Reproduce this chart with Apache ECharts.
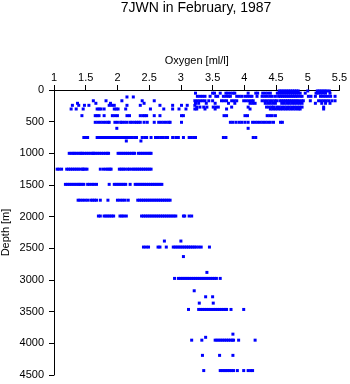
<!DOCTYPE html>
<html>
<head>
<meta charset="utf-8">
<script src="https://cdn.jsdelivr.net/npm/echarts@6/dist/echarts.min.js"></script>
<style>
html,body{margin:0;padding:0;background:#fff;}
#chart{width:350px;height:384px;}
</style>
</head>
<body>
<div id="chart"></div>
<script>
// Tick values
const xTicks = [1, 1.5, 2, 2.5, 3, 3.5, 4, 4.5, 5, 5.5];
const yTicks = [0, 500, 1000, 1500, 2000, 2500, 3000, 3500, 4000, 4500];

// Depth levels [m] and oxygen values [ml/l] read at each level
const depthLevels = [15, 50, 100, 110, 170, 210, 242, 270, 300, 405, 510, 605, 750, 805, 1000, 1250, 1490, 1740, 1990, 2385, 2480, 2630, 2880, 2975, 3170, 3265, 3365, 3465, 3855, 3905, 3950, 4190, 4430];

const o2_15 = [4.55, 4.58, 4.61, 4.64, 4.67, 4.70, 4.73, 4.76, 4.79, 4.82, 4.85, 5.00, 5.15, 5.18, 5.21, 5.24, 5.27, 5.30, 5.34];
const o2_50 = [3.23, 3.50, 3.53, 3.62, 3.71, 3.74, 3.78, 3.82, 3.85, 4.06, 4.18, 4.21, 4.29, 4.33, 4.37, 4.41, 4.52, 4.55, 4.58, 4.61, 4.64, 4.67, 4.70, 4.73, 4.76, 4.79, 4.82, 4.85, 4.88, 4.96, 5.13, 5.16, 5.20, 5.24, 5.28, 5.35];
const o2_100 = [3.26, 3.30, 3.34, 3.38, 3.46, 3.55, 3.58, 3.67, 3.71, 3.75, 3.78, 3.88, 3.92, 3.96, 4.01, 4.05, 4.09, 4.12, 4.20, 4.28, 4.32, 4.36, 4.40, 4.44, 4.49, 4.54, 4.57, 4.60, 4.63, 4.66, 4.69, 4.72, 4.75, 4.78, 4.81, 4.84, 4.88, 4.91, 5.01, 5.05, 5.12, 5.20, 5.24, 5.28, 5.32, 5.36, 5.43];
const o2_110 = [2.15, 2.25];
const o2_170 = [1.62, 1.82, 2.07, 2.39, 2.58, 3.22, 3.26, 3.30, 3.34, 3.38, 3.44, 3.50, 3.64, 3.68, 3.72, 3.80, 3.84, 3.88, 3.99, 4.03, 4.07, 4.11, 4.14, 4.28, 4.32, 4.36, 4.40, 4.44, 4.48, 4.51, 4.56, 4.59, 4.62, 4.65, 4.68, 4.71, 4.74, 4.77, 4.80, 4.83, 4.86, 4.90, 4.93, 5.04, 5.17, 5.21, 5.25, 5.29, 5.33, 5.38, 5.43];
const o2_210 = [1.37, 1.66, 1.89, 2.42, 3.23, 3.28, 3.40, 3.54, 3.75, 3.85, 4.09, 4.13, 4.17, 4.33, 4.37, 4.41, 4.45, 4.49, 4.59, 4.63, 4.67, 4.71, 4.75, 4.79, 4.83, 4.87, 4.91, 5.12, 5.22, 5.28, 5.35];
const o2_242 = [1.29, 1.39, 1.48, 1.55, 1.87, 1.91, 1.95, 2.15, 2.36, 2.67, 2.87, 3.01, 3.10, 3.22];
const o2_270 = [3.25, 3.30, 3.36, 3.41, 3.51, 3.55, 3.59, 3.80, 4.06, 4.35, 4.39, 4.43, 4.46, 4.51, 4.55, 4.59, 4.63, 4.67, 4.71, 4.75, 4.79, 4.83, 4.87, 4.91, 5.25];
const o2_300 = [1.27, 1.35, 1.46, 1.68, 1.71, 1.74, 1.79, 1.95, 1.98, 2.01, 2.13, 2.52, 2.73, 2.87, 2.97, 3.08, 3.22, 3.25, 3.38, 3.54, 3.72, 4.09, 4.41, 4.45, 4.49, 4.53, 4.57, 4.61, 4.65, 4.69, 4.73, 4.77, 4.81, 4.85, 4.88, 5.25];
const o2_405 = [1.44, 1.65, 1.68, 1.71, 1.79, 1.92, 1.96, 2.00, 2.15, 2.19, 2.36, 2.40, 2.43, 2.46, 2.58, 2.67, 3.01, 3.04, 3.68, 3.72, 4.01, 4.05, 4.36, 4.40, 4.44, 4.49];
const o2_510 = [1.65, 1.69, 1.73, 1.77, 1.81, 1.85, 1.87, 1.96, 2.00, 2.05, 2.07, 2.11, 2.15, 2.20, 2.23, 2.27, 2.30, 2.33, 2.36, 2.42, 2.47, 2.58, 2.65, 2.69, 2.73, 2.77, 2.81, 2.83, 3.01, 3.78, 3.82, 3.87, 3.92, 3.96, 4.01, 4.06, 4.13, 4.17, 4.21, 4.25, 4.29, 4.33, 4.37, 4.41, 4.46, 4.57, 4.60];
const o2_605 = [1.99, 4.06];
const o2_750 = [1.47, 1.50, 1.53, 1.68, 1.71, 1.74, 1.77, 1.80, 1.83, 1.86, 1.89, 1.92, 1.95, 1.98, 2.01, 2.04, 2.08, 2.12, 2.15, 2.19, 2.23, 2.27, 2.30, 2.39, 2.43, 2.46, 2.53, 2.60, 2.64, 2.68, 2.72, 2.76, 2.79, 2.87, 2.92, 2.96, 3.04, 3.13, 3.16, 3.20, 3.23, 3.67, 3.71, 4.14, 4.18];
const o2_805 = [2.14, 2.37];
const o2_1000 = [1.24, 1.27, 1.30, 1.32, 1.35, 1.38, 1.41, 1.43, 1.45, 1.48, 1.51, 1.54, 1.57, 1.60, 1.62, 1.63, 1.66, 1.69, 1.72, 1.75, 1.78, 1.81, 1.84, 1.86, 2.01, 2.04, 2.07, 2.10, 2.13, 2.16, 2.19, 2.22, 2.25, 2.27, 2.33, 2.36, 2.39, 2.42, 2.45, 2.48, 2.51, 2.53];
const o2_1250 = [1.05, 1.08, 1.12, 1.20, 1.23, 1.26, 1.29, 1.32, 1.35, 1.38, 1.41, 1.45, 1.46, 1.49, 1.52, 1.73, 1.78, 1.82, 1.85, 1.88, 1.90, 2.03, 2.06, 2.09, 2.12, 2.16, 2.19, 2.23, 2.26, 2.29, 2.32, 2.35, 2.38, 2.41, 2.44, 2.47, 2.50, 2.53];
const o2_1490 = [1.18, 1.21, 1.24, 1.27, 1.30, 1.33, 1.36, 1.39, 1.41, 1.44, 1.47, 1.53, 1.56, 1.60, 1.63, 1.67, 1.87, 1.95, 1.98, 2.01, 2.04, 2.07, 2.10, 2.13, 2.20, 2.28, 2.31, 2.34, 2.37, 2.40, 2.43, 2.46, 2.49, 2.52, 2.55, 2.58, 2.61, 2.64, 2.67, 2.70];
const o2_1740 = [1.38, 1.41, 1.45, 1.49, 1.53, 1.58, 1.61, 1.64, 1.67, 1.73, 1.85, 2.00, 2.04, 2.08, 2.12, 2.17, 2.32, 2.35, 2.38, 2.41, 2.44, 2.47, 2.50, 2.53, 2.56, 2.59, 2.62, 2.65, 2.68, 2.71, 2.74, 2.77, 2.80, 2.83];
const o2_1990 = [1.70, 1.73, 1.79, 1.82, 1.85, 1.88, 1.91, 1.94, 2.04, 2.07, 2.10, 2.14, 2.38, 2.41, 2.44, 2.47, 2.50, 2.53, 2.56, 2.59, 2.62, 2.65, 2.68, 2.71, 2.74, 2.77, 2.80, 2.83, 2.86, 2.89, 2.92, 3.04, 3.06, 3.13, 3.17];
const o2_2385 = [2.74, 3.00];
const o2_2480 = [2.41, 2.45, 2.49, 2.64, 2.67, 2.77, 2.88, 2.91, 2.94, 2.97, 3.00, 3.03, 3.06, 3.09, 3.12, 3.15, 3.18, 3.21, 3.24, 3.28, 3.32, 3.45];
const o2_2630 = [3.04];
const o2_2880 = [3.41];
const o2_2975 = [2.90, 2.96, 2.99, 3.02, 3.05, 3.08, 3.11, 3.14, 3.17, 3.20, 3.23, 3.26, 3.29, 3.32, 3.35, 3.38, 3.41, 3.44, 3.47, 3.50, 3.53, 3.56, 3.62];
const o2_3170 = [3.21];
const o2_3265 = [3.39, 3.50];
const o2_3365 = [3.29, 3.51];
const o2_3465 = [3.12, 3.28, 3.31, 3.34, 3.37, 3.40, 3.43, 3.46, 3.49, 3.52, 3.55, 3.58, 3.61, 3.64, 3.67, 3.70, 3.72, 3.79, 3.99];
const o2_3855 = [3.82];
const o2_3905 = [3.39];
const o2_3950 = [3.17, 3.33, 3.54, 3.57, 3.60, 3.63, 3.66, 3.69, 3.72, 3.75, 3.78, 3.81, 3.83, 3.91, 4.17];
const o2_4190 = [3.34, 3.61, 3.82];
const o2_4430 = [3.36, 3.62, 3.65, 3.68, 3.71, 3.74, 3.77, 3.80, 3.83, 3.89, 3.99, 4.06, 4.10, 4.13];

const oxygenLists = [o2_15, o2_50, o2_100, o2_110, o2_170, o2_210, o2_242, o2_270, o2_300, o2_405, o2_510, o2_605, o2_750, o2_805, o2_1000, o2_1250, o2_1490, o2_1740, o2_1990, o2_2385, o2_2480, o2_2630, o2_2880, o2_2975, o2_3170, o2_3265, o2_3365, o2_3465, o2_3855, o2_3905, o2_3950, o2_4190, o2_4430];

const points = [];
depthLevels.forEach((d, i) => {
  oxygenLists[i].forEach(o => points.push([o, d]));
});

const FONT = 'Liberation Sans';
const chart = echarts.init(document.getElementById('chart'), null, {renderer: 'canvas'});
chart.setOption({
  animation: false,
  backgroundColor: '#ffffff',
  title: {
    text: '7JWN in February, 1987',
    left: 196,
    textAlign: 'center',
    top: 1,
    padding: 0,
    textStyle: {fontFamily: FONT, fontSize: 14, fontWeight: 'normal', color: '#000'}
  },
  grid: {left: 54, right: 10.5, top: 90, bottom: 9, containLabel: false, outerBoundsMode: 'none'},
  xAxis: {
    type: 'value',
    position: 'top',
    min: xTicks[0],
    max: xTicks[xTicks.length - 1],
    interval: 0.5,
    name: 'Oxygen [ml/l]',
    nameLocation: 'middle',
    nameGap: 24,
    nameMoveOverlap: false,
    nameTextStyle: {fontFamily: FONT, fontSize: 11, color: '#000'},
    axisLine: {show: true, onZero: false, lineStyle: {color: '#000', width: 1}},
    axisTick: {show: true, inside: false, length: 5, lineStyle: {color: '#000'}},
    axisLabel: {fontFamily: FONT, fontSize: 11, color: '#000', margin: 7, formatter: v => String(v)},
    splitLine: {show: false}
  },
  yAxis: {
    type: 'value',
    inverse: true,
    min: yTicks[0],
    max: yTicks[yTicks.length - 1],
    interval: 500,
    name: 'Depth [m]',
    nameLocation: 'middle',
    nameGap: 43,
    nameMoveOverlap: false,
    nameTextStyle: {fontFamily: FONT, fontSize: 11, color: '#000'},
    axisLine: {show: true, onZero: false, lineStyle: {color: '#000', width: 1}},
    axisTick: {show: true, inside: false, length: 5, lineStyle: {color: '#000'}},
    axisLabel: {fontFamily: FONT, fontSize: 11, color: '#000', margin: 10, formatter: v => String(v)},
    splitLine: {show: false}
  },
  series: [{
    type: 'scatter',
    data: points,
    symbol: 'rect',
    symbolSize: [3, 3],
    itemStyle: {color: '#0000ff', opacity: 1},
    clip: false
  }]
});
</script>
</body>
</html>
